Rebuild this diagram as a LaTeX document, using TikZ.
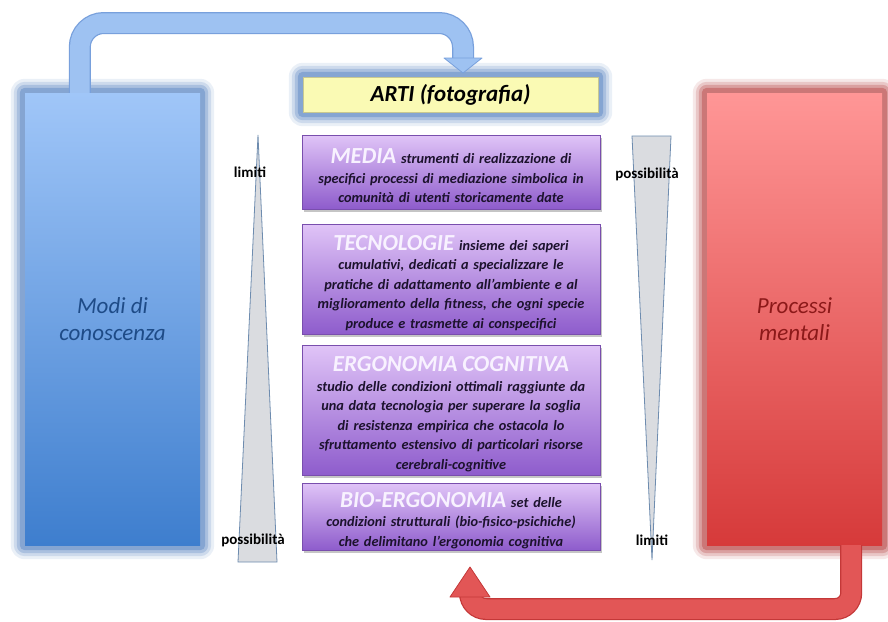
\documentclass[tikz,border=0pt]{standalone}
\usepackage{fontspec}
\setmainfont{Carlito}
\usetikzlibrary{calc,shadows}

\definecolor{blueTop}{RGB}{160,198,248}
\definecolor{blueBot}{RGB}{62,126,206}
\definecolor{blueGlow}{RGB}{90,134,196}
\definecolor{redTop}{RGB}{255,150,150}
\definecolor{redBot}{RGB}{214,58,58}
\definecolor{redGlow}{RGB}{185,70,70}
\definecolor{purTop}{RGB}{224,196,247}
\definecolor{purBot}{RGB}{142,92,204}
\definecolor{artiFill}{RGB}{250,250,180}
\definecolor{txtDark}{RGB}{28,18,45}
\definecolor{titleCol}{RGB}{248,242,255}
\definecolor{modiTxt}{RGB}{30,75,135}
\definecolor{procTxt}{RGB}{140,25,25}
\definecolor{arrBlue}{RGB}{158,194,242}
\definecolor{arrBlueEdge}{RGB}{120,160,220}
\definecolor{arrRed}{RGB}{226,86,86}
\definecolor{arrRedEdge}{RGB}{196,56,56}
\definecolor{triFill}{RGB}{218,220,224}
\definecolor{triEdge}{RGB}{110,140,175}

\tikzset{
  bigbox/.style={rectangle, minimum width=175pt, minimum height=452pt, inner sep=0pt,
    font=\fontsize{23}{27}\selectfont\itshape, align=center},
  purbox/.style={rectangle, top color=purTop, bottom color=purBot, draw=purBot!85!black,
    line width=0.4pt, minimum width=298pt, text width=294pt, inner sep=0pt, align=center,
    font=\fontsize{14.3}{19.5}\selectfont\bfseries\itshape, text=txtDark,
    drop shadow={shadow xshift=1.5pt, shadow yshift=-2.5pt, opacity=0.45}},
  sidelabel/.style={font=\fontsize{15}{17}\selectfont\bfseries, text=black, inner sep=0pt},
  tri/.style={fill=triFill, draw=triEdge, line width=0.8pt, line join=miter}
}
\newcommand{\ttltxt}[1]{\rule{0pt}{23pt}{\fontsize{23}{19.5}\selectfont\color{titleCol}#1}}

\begin{document}
\begin{tikzpicture}[x=1pt,y=-1pt]
\useasboundingbox (0,0) rectangle (888,621);
\fill[white] (0,0) rectangle (888,621);

% ---------- node placeholders (drawn later on top of glows) ----------
\path
  node[bigbox] (modi) at (112.5,319) {}
  node[bigbox] (proc) at (794.5,319) {}
  node[rectangle, minimum width=295pt, minimum height=35pt, inner sep=0pt] (arti) at (450.5,94.5) {};

% ---------- glows ----------
\foreach \d/\o in {14/0.12,11/0.2,8/0.3,5/0.45} {
  \fill[blueGlow, opacity=\o, rounded corners=\d pt]
    ($(modi.north west)+(-\d,-\d)$) rectangle ($(modi.south east)+(\d,\d)$);
  \fill[blueGlow, opacity=\o, rounded corners=\d pt]
    ($(arti.north west)+(-\d,-\d)$) rectangle ($(arti.south east)+(\d,\d)$);
  \fill[redGlow, opacity=\o, rounded corners=\d pt]
    ($(proc.north west)+(-\d,-\d)$) rectangle ($(proc.south east)+(\d,\d)$);
}

% ---------- blue arrow ----------
\coordinate (bs) at ($(modi.north west)+(55,0)$);
\coordinate (bh) at (463,58);
\draw[arrBlueEdge, line width=22pt, rounded corners=24pt] (bs) -- (bs |- 0,23) -- (bh |- 0,23) -- (bh);
\draw[arrBlue, line width=19.5pt, rounded corners=24pt] (bs) -- (bs |- 0,23) -- (bh |- 0,23) -- ($(bh)+(0,1)$);
\fill[arrBlue, draw=arrBlueEdge, line width=0.8pt, line join=round]
  ($(bh)+(-19,0)$) -- ($(bh)+(19,0)$) -- ($(bh)+(0,15)$) -- cycle;

% ---------- big boxes ----------
\node[bigbox, top color=blueTop, bottom color=blueBot, text=modiTxt] at (modi) {Modi di\\conoscenza};
\node[bigbox, top color=redTop, bottom color=redBot, text=procTxt] at (proc) {Processi\\mentali};

% ---------- red arrow ----------
\coordinate (rs) at ($(proc.south east)+(-31,0)$);
\coordinate (rh) at (470,597);
\draw[arrRedEdge, line width=22pt, rounded corners=16pt] (rs) -- (rs |- 0,609) -- (rh |- 0,609) -- (rh);
\draw[arrRed, line width=19.5pt, rounded corners=16pt] (rs) -- (rs |- 0,609) -- (rh |- 0,609) -- ($(rh)+(0,-1)$);
\fill[arrRed, draw=arrRedEdge, line width=0.8pt, line join=round]
  ($(rh)+(-20,0)$) -- ($(rh)+(20,0)$) -- ($(rh)+(0,-30)$) -- cycle;

% ---------- ARTI ----------
\node[rectangle, fill=artiFill, draw=artiFill!80!black, line width=0.3pt, minimum width=295pt, minimum height=35pt,
      inner sep=0pt, font=\fontsize{23}{25}\selectfont\bfseries\itshape, text=black] at (arti) {ARTI (fotografia)};

% ---------- purple boxes ----------
\node[purbox, minimum height=74pt] (media) at (451,172)
  {\ttltxt{MEDIA} strumenti di realizzazione di\\ specifici processi di mediazione simbolica in\\ comunità di utenti storicamente date};
\node[purbox, minimum height=110pt] (tecno) at (451,279)
  {\ttltxt{TECNOLOGIE} insieme dei saperi\\ cumulativi, dedicati a specializzare le\\ pratiche di adattamento all’ambiente e al\\ miglioramento della fitness, che ogni specie\\ produce e trasmette ai conspecifici};
\node[purbox, minimum height=130pt] (ergo) at (451,410)
  {\ttltxt{ERGONOMIA COGNITIVA}\\ studio delle condizioni ottimali raggiunte da\\ una data tecnologia per superare la soglia\\ di resistenza empirica che ostacola lo\\ sfruttamento estensivo di particolari risorse\\ cerebrali-cognitive};
\node[purbox, minimum height=67pt] (bio) at (451,516.5)
  {\ttltxt{BIO-ERGONOMIA} set delle\\ condizioni strutturali (bio-fisico-psichiche)\\ che delimitano l’ergonomia cognitiva};

% ---------- triangles ----------
\draw[tri] (258,135) -- (277,562) -- (238,562) -- cycle;
\draw[tri] (632,136) -- (671,136) -- (652,560) -- cycle;
\node[sidelabel] (limL) at (250,172) {limiti};
\node[sidelabel] (posL) at (253,540) {possibilità};
\node[sidelabel] (posR) at (647,174) {possibilità};
\node[sidelabel] (limR) at (652,540) {limiti};
\end{tikzpicture}
\end{document}
